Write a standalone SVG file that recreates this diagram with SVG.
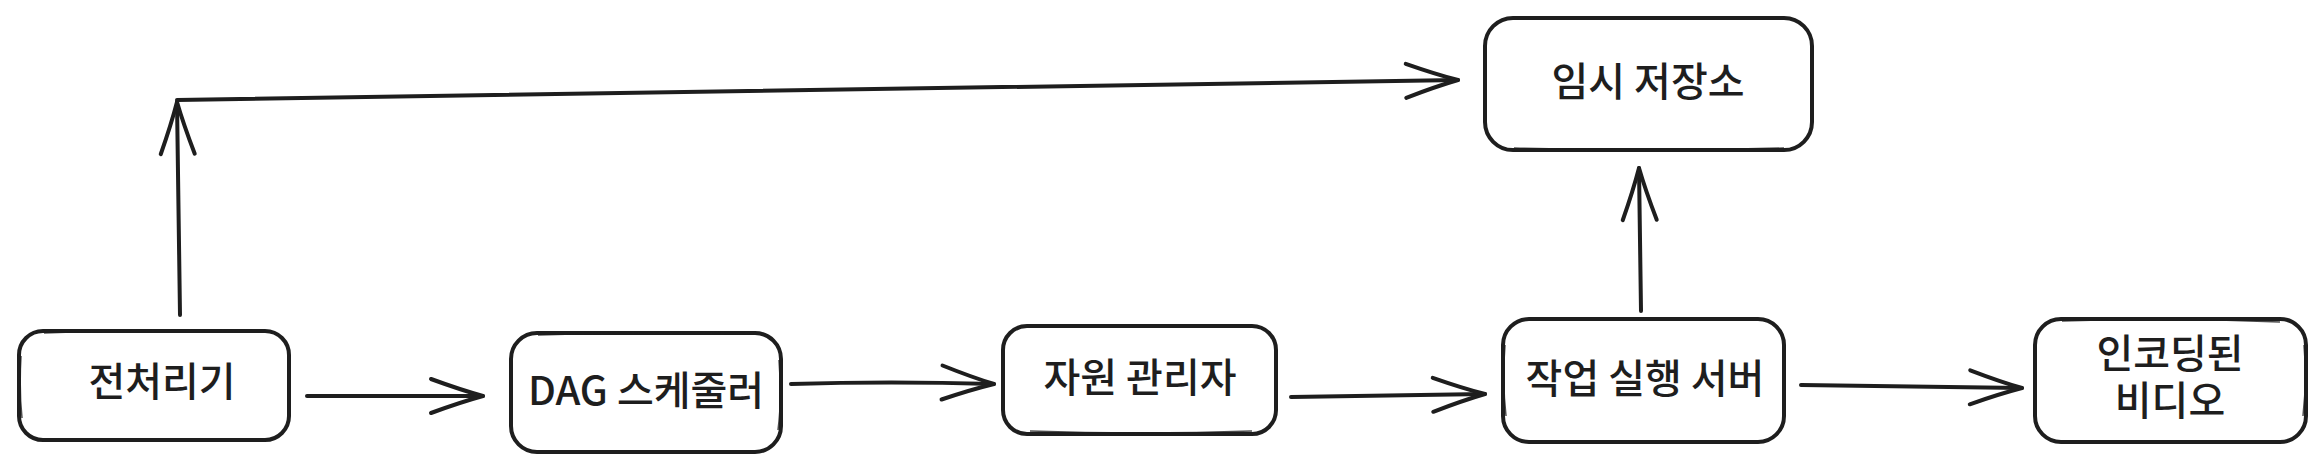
<svg xmlns="http://www.w3.org/2000/svg" width="2324" height="474" viewBox="0 0 2324 474">
<style>
.box{fill:#ffffff;stroke:#1e1e1e;stroke-width:4;stroke-linejoin:round}
.sk{fill:none;stroke:#1e1e1e;stroke-width:1.5;opacity:0.8}
.lbl{font-family:"Noto Sans CJK KR","Noto Sans",sans-serif;font-size:40px;font-weight:500;fill:#1e1e1e;text-anchor:middle}
.ln{fill:none;stroke:#1e1e1e;stroke-width:4;stroke-linecap:round;stroke-linejoin:round}
</style>
<defs>
<marker id="ah" markerUnits="userSpaceOnUse" markerWidth="60" markerHeight="44" viewBox="-54 -22 60 44" refX="0" refY="0" orient="auto" overflow="visible">
<path d="M-52,-17 Q-22,-6 0,0 Q-22,6 -52,17" fill="none" stroke="#1e1e1e" stroke-width="4" stroke-linecap="round" stroke-linejoin="round"/>
</marker>
</defs>
<rect width="2324" height="474" fill="#ffffff"/>
<g id="connectors">
<path class="ln" d="M307,396 L483,396" marker-end="url(#ah)"/>
<path class="ln" d="M791,384 Q890,381 994,384" marker-end="url(#ah)"/>
<path class="ln" d="M1291,397 L1485,394" marker-end="url(#ah)"/>
<path class="ln" d="M1801,385 L2022,388" marker-end="url(#ah)"/>
<path class="ln" d="M1641,311 L1639,168" marker-end="url(#ah)"/>
<path class="ln" d="M180,315 L177,102" marker-end="url(#ah)"/>
<path class="ln" d="M177,100 L1458,80" marker-end="url(#ah)"/>
</g>
<g id="node-preprocessor">
<rect class="box" x="19" y="331" width="270" height="109" rx="24"/>
<path class="sk" d="M44,333 Q150,329 266,331 M21,356 Q19,390 22,418"/>
<text class="lbl" x="162" y="396">전처리기</text>
</g>
<g id="node-dag">
<rect class="box" x="511" y="333" width="270" height="119" rx="26"/>
<path class="sk" d="M538,335 Q650,331 758,334 M779,360 Q782,400 778,430"/>
<text class="lbl" x="646" y="405">DAG 스케줄러</text>
</g>
<g id="node-resource">
<rect class="box" x="1003" y="326" width="273" height="108" rx="24"/>
<path class="sk" d="M1030,431 Q1140,435 1252,431"/>
<text class="lbl" x="1140" y="392">자원 관리자</text>
</g>
<g id="node-worker">
<rect class="box" x="1503" y="319" width="281" height="123" rx="26"/>
<path class="sk" d="M1505,345 Q1502,380 1506,416"/>
<text class="lbl" x="1645" y="393">작업 실행 서버</text>
</g>
<g id="node-encoded">
<rect class="box" x="2035" y="319" width="271" height="123" rx="26"/>
<path class="sk" d="M2062,321 Q2170,317 2280,322 M2304,345 Q2307,380 2303,416"/>
<text class="lbl" x="2170" y="368"><tspan x="2170" y="368">인코딩된</tspan><tspan x="2170" y="415">비디오</tspan></text>
</g>
<g id="node-storage">
<rect class="box" x="1485" y="18" width="327" height="132" rx="28"/>
<path class="sk" d="M1514,148 Q1650,152 1784,148"/>
<text class="lbl" x="1648" y="96">임시 저장소</text>
</g>
</svg>
